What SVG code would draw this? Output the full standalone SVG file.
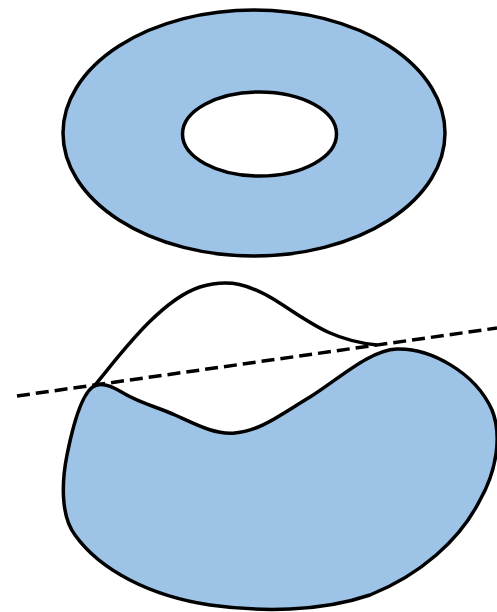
<svg xmlns="http://www.w3.org/2000/svg" width="497" height="612" viewBox="0 0 497 612">
<style>
.s{stroke:#000;stroke-width:3.5;stroke-linejoin:round}
.b{fill:#9dc3e6}
.w{fill:#fff}
</style>
<rect width="497" height="612" fill="#fff"/>
<g id="ring">
<ellipse class="s b" cx="254" cy="133" rx="191" ry="123"/>
<ellipse class="s w" cx="259.5" cy="134" rx="77" ry="42"/>
</g>
<g id="blob">
<path class="s b" d="M 97 385 C 105 383, 113 387, 125 394 C 140 403, 160 408, 175 415 C 195 424, 215 435, 235 433 C 260 431, 280 415, 310 397 C 340 378, 370 350, 397 349 C 430 348, 475 372, 492 410 C 502 435, 497 470, 480 500 C 460 540, 420 575, 370 595 C 320 612, 260 612, 210 605 C 150 596, 100 570, 75 535 C 60 515, 62 480, 67 455 C 72 430, 82 388, 97 385 Z"/>
<path class="s" fill="none" d="M 95 385 C 120 355, 160 300, 200 287 C 230 278, 250 285, 275 300 C 310 322, 330 340, 377 345"/>
</g>
<g id="connectors">
<line x1="17" y1="396" x2="497" y2="328" stroke="#000" stroke-width="3.5" stroke-dasharray="13,6"/>
</g>
</svg>
